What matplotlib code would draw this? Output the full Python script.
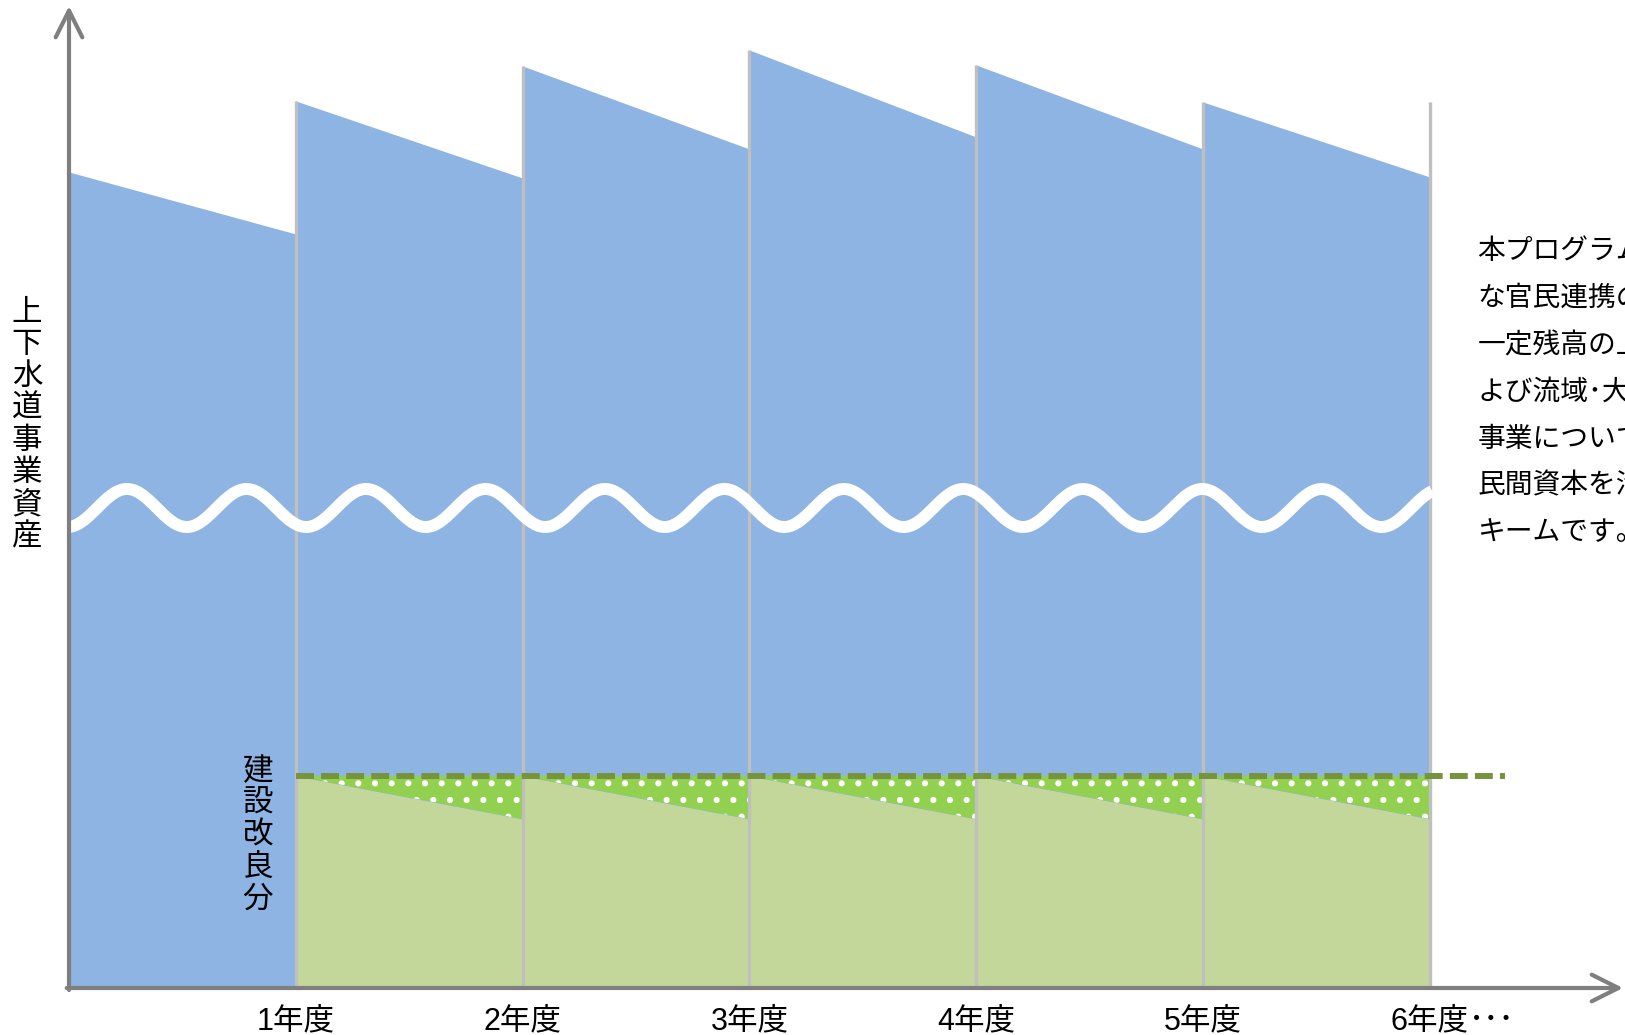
import numpy as np
import matplotlib
matplotlib.use("Agg")
import matplotlib.pyplot as plt

# === Données ===
annees = [0, 1, 2, 3, 4, 5, 6]
libelles_annees = ["1年度", "2年度", "3年度", "4年度", "5年度", "6年度"]
actif_debut = [81.6, 88.7, 92.2, 93.8, 92.3, 88.6]   # début de chaque exercice
actif_fin = [75.4, 81.0, 83.9, 85.1, 83.9, 81.1]     # fin de chaque exercice
travaux_niveau = 21.2       # niveau constant (ligne pointillée)
travaux_fin = 16.9          # valeur résiduelle en fin d'exercice
titre_y = "上下水道事業資産"
titre_travaux = "建設改良分"
texte_droite = [
    "本プログラムは、新た",
    "な官民連携の手法として",
    "一定残高の上水道事業お",
    "よび流域･大規模下水道",
    "事業について、",
    "民間資本を活用するス",
    "キームです。",
]

# === Couleurs ===
bleu = "#8EB4E3"
vert_clair = "#C4D79B"
vert_vif = "#92D050"
olive = "#77933C"
gris_axe = "#7F7F7F"
gris_sep = "#BFBFBF"

plt.rcParams['font.family'] = ['Liberation Sans', 'Noto Sans CJK JP']
plt.rcParams['hatch.color'] = 'white'
plt.rcParams['hatch.linewidth'] = 2.0

fig = plt.figure(figsize=(16.25, 10.35), dpi=100)
ax = fig.add_axes([0, 0, 1, 1])
px_an = 226.8
ax.set_xlim(-69 / px_an, (1625 - 69) / px_an)
ax.set_ylim(-4.7, 98.8)
ax.axis('off')

# actifs (bleu) par exercice
for i in range(len(actif_debut)):
    x = [annees[i], annees[i + 1]]
    ax.fill_between(x, [0, 0], [actif_debut[i], actif_fin[i]],
                    color=bleu, linewidth=0, zorder=1)

# part travaux (vert) à partir du 1er exercice
for i in range(1, len(actif_debut)):
    x = [annees[i], annees[i + 1]]
    ax.fill_between(x, [0, 0], [travaux_niveau, travaux_fin],
                    color=vert_clair, linewidth=0, zorder=2)
    ax.fill_between(x, [travaux_niveau, travaux_fin], [travaux_niveau, travaux_niveau],
                    facecolor=vert_vif, edgecolor='white', hatch='.',
                    linewidth=0, zorder=2)

# séparateurs entre exercices
for i in range(1, len(annees)):
    haut = actif_debut[min(i, len(actif_debut) - 1)]
    ax.plot([annees[i], annees[i]], [0, haut], color=gris_sep, lw=2.4,
            solid_capstyle='butt', zorder=3)

# ligne pointillée du niveau de travaux
ax.plot([annees[1], 6.33], [travaux_niveau, travaux_niveau], color=olive, lw=4.3,
        dashes=(3, 1.2), dash_capstyle='butt', zorder=4)

# ondulation (coupure d'axe)
xs = np.linspace(-0.01, 6.01, 800)
ax.plot(xs, 48.0 + 1.9 * np.cos(2 * np.pi * (xs - 0.2557) / 0.5268),
        color='white', lw=8.6, solid_capstyle='butt', zorder=5)

# axes avec flèches
fleche = dict(arrowstyle='->,head_length=0.4,head_width=0.2', lw=3, color=gris_axe,
              mutation_scale=48, shrinkA=0, shrinkB=0)
ax.annotate('', xy=(0, 98.2), xytext=(0, -0.2), arrowprops=fleche, zorder=6)
ax.annotate('', xy=(6.852, 0), xytext=(-0.01, 0), arrowprops=fleche, zorder=6)

# libellés des exercices
dernier = None
for i, lib in enumerate(libelles_annees):
    dernier = ax.text(annees[i + 1], -3.3, lib, fontsize=22, ha='center', va='center')
ax.annotate('･･･', xy=(1, 0.5), xycoords=dernier, ha='left', va='center', fontsize=22,
            family=['Noto Sans CJK JP'])

# titres verticaux
for k, ch in enumerate(titre_y):
    ax.text(-0.185, 67.5 - 3.2 * k, ch, fontsize=22, ha='center', va='center')
for k, ch in enumerate(titre_travaux):
    ax.text(0.833, 21.6 - 3.2 * k, ch, fontsize=22, ha='center', va='center')

# texte à droite
for k, ligne in enumerate(texte_droite):
    ax.text(6.21, 73.5 - 4.67 * k, ligne, fontsize=20, ha='left', va='center')

plt.savefig("out.png", dpi=100)
